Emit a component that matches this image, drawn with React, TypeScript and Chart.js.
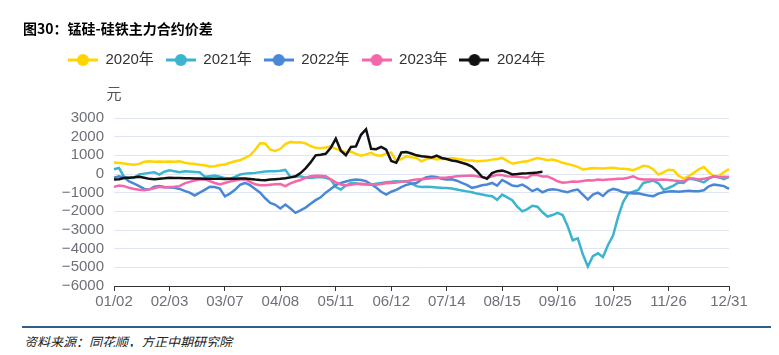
import React, { useEffect, useRef } from 'react';
import { Chart, registerables } from 'chart.js';

Chart.register(...registerables);

const FONT = '"Liberation Sans", "Noto Sans CJK SC", sans-serif';
const CJK_FONT = '"Noto Sans CJK SC", "Liberation Sans", sans-serif';

const TITLE = '图30：锰硅-硅铁主力合约价差';
const SOURCE = '资料来源：同花顺，方正中期研究院';
const Y_UNIT = '元';

const SERIES_NAMES = ['2020年', '2021年', '2022年', '2023年', '2024年'];
const SERIES_COLORS = ['#ffd400', '#3cb4cf', '#4a88d6', '#f467a9', '#111111'];

const TICK_LABELS = ['01/02', '02/03', '03/07', '04/08', '05/11', '06/12', '07/14', '08/15', '09/16', '10/25', '11/26', '12/31'];
const TICK_INDEX = [0, 11, 22, 33, 44, 55, 66, 77, 88, 99, 110, 122];
const POINT_COUNT = 123;

const Y_MIN = -6000;
const Y_MAX = 3000;
const Y_STEP = 1000;

const s2020 = [
  620, 590, 560, 520, 500, 540, 660, 680, 660, 670,
  650, 670, 660, 680, 600, 560, 540, 500, 470, 400,
  420, 480, 510, 600, 680, 740, 860, 1000, 1300, 1650,
  1640, 1300, 1230, 1350, 1600, 1720, 1690, 1700, 1640, 1500,
  1400, 1380, 1420, 1480, 1350, 1250, 1170, 1200, 1080, 980,
  1050, 1130, 1000, 980, 1100, 1150, 700, 800, 950, 900,
  860, 680, 800, 860, 780, 820, 800, 860, 820, 780,
  740, 720, 680, 700, 720, 770, 800, 860, 700, 560,
  600, 660, 680, 780, 860, 800, 740, 770, 700, 600,
  540, 460, 380, 240, 280, 320, 310, 300, 320, 330,
  300, 280, 250, 200, 320, 440, 400, 240, -30, 90,
  230, 200, -100, -250, -120, 60, 250, 380, 100, -120,
  -100, 90, 270,
];

const s2021 = [
  250, 320, -150, -210, -200, -30, 20, 60, 90, -30,
  120, 200, 150, 90, 145, 130, 110, 90, -150, -120,
  -85, -150, -220, -260, -150, -30, 20, 40, 60, 100,
  130, 145, 150, 180, 220, -160, -150, -120, -200, -210,
  -180, -160, -200, -300, -700, -830, -620, -480, -500, -550,
  -560, -570, -520, -480, -440, -420, -390, -400, -390, -500,
  -650, -690, -680, -700, -720, -740, -750, -780, -830, -880,
  -930, -980, -1050, -1100, -1150, -1190, -1380, -1100, -1250, -1400,
  -1750, -2000, -1880, -1700, -1750, -2050, -2280, -2200, -2080, -2200,
  -2800, -3550, -3450, -4300, -4950, -4400, -4250, -4450, -3800, -3300,
  -2300, -1500, -1050, -950, -850, -480, -420, -350, -500, -850,
  -750, -620, -450, -480, -250, -280, -350, -450, -250, -120,
  -180, -280, -150,
];

const s2022 = [
  -200, -120, -180, -400, -520, -650, -800, -830, -680, -650,
  -700, -720, -740, -800, -900, -1000, -1150, -1000, -850, -680,
  -700, -780, -1200, -1050, -850, -580, -480, -600, -800, -1000,
  -1300, -1550, -1650, -1850, -1640, -1850, -2080, -1950, -1800, -1600,
  -1400, -1250, -1000, -800, -600, -480, -400, -330, -300, -320,
  -380, -550, -720, -950, -1100, -950, -850, -700, -580, -520,
  -480, -300, -170, -130, -160, -250, -300, -280, -360, -480,
  -580, -740, -680, -600, -560, -480, -620, -320, -460, -620,
  -650, -570, -720, -920, -800, -980, -860, -820, -850, -920,
  -980, -880, -830, -1100, -1370, -1100, -1000, -1180, -920, -800,
  -860, -980, -1000, -1050, -1030, -1100, -1150, -1190, -1050, -980,
  -940, -920, -950, -920, -900, -930, -920, -870, -660, -570,
  -600, -650, -800,
];

const s2023 = [
  -690, -620, -650, -740, -800, -840, -870, -820, -760, -690,
  -720, -700, -680, -650, -500, -420, -350, -300, -280, -380,
  -480, -560, -480, -400, -350, -300, -280, -420, -550, -600,
  -600, -570, -550, -540, -650, -500, -400, -320, -200, -120,
  -100, -90, -120, -280, -450, -560, -620, -580, -540, -520,
  -530, -560, -570, -540, -500, -480, -450, -420, -400, -340,
  -300, -280, -260, -230, -210, -200, -190, -160, -120, -110,
  -100, -85, -120, -180, -210, -120, -40, -60, -120, -130,
  -150, -180, -200, -40, -60, -130, -140, -250, -390, -470,
  -440, -400, -420, -380, -340, -350, -300, -320, -300, -280,
  -260, -250, -200, -120, -260, -300, -300, -290, -310, -300,
  -320, -350, -370, -390, -260, -240, -290, -260, -200, -140,
  -170, -150, -160,
];

const s2024 = [
  -300, -280, -220, -200, -180, -150, -200, -260, -280, -250,
  -230, -200, -210, -220, -230, -230, -240, -240, -250, -250,
  -250, -260, -270, -260, -250, -240, -240, -270, -300, -320,
  -330, -300, -280, -260, -230, -180, -120, 50, 300, 620,
  1000, 1030, 1080, 1400, 1900, 1250, 1000, 1450, 1480, 2100,
  2400, 1350, 1330, 1450, 1300, 700, 600, 1150, 1180, 1100,
  1000, 950, 920, 880, 980, 860, 800, 720, 680, 600,
  520, 400, 150, -150, -250, 50, 150, 180, 100, -20,
  0, 30, 40, 60, 80, 120,
];

const SERIES = [s2020, s2021, s2022, s2023, s2024];

function makeIcon(color: string): HTMLCanvasElement {
  const c = document.createElement('canvas');
  c.width = 30;
  c.height = 14;
  const g = c.getContext('2d') as CanvasRenderingContext2D;
  g.strokeStyle = color;
  g.lineWidth = 3;
  g.beginPath();
  g.moveTo(0, 7);
  g.lineTo(30, 7);
  g.stroke();
  g.fillStyle = color;
  g.beginPath();
  g.arc(15, 7, 6, 0, Math.PI * 2);
  g.fill();
  return c;
}

const legendSpacing = {
  id: 'legendSpacing',
  beforeInit(chart: any) {
    const legend = chart.legend;
    if (!legend) return;
    const fit = legend.fit;
    legend.fit = function () {
      fit.call(this);
      this.height = 77.5;
    };
  },
};

const axisName = {
  id: 'axisName',
  afterDraw(chart: any) {
    const { ctx, chartArea } = chart;
    ctx.save();
    ctx.font = '15px ' + CJK_FONT;
    ctx.fillStyle = '#555';
    ctx.textAlign = 'center';
    ctx.textBaseline = 'middle';
    ctx.fillText(Y_UNIT, chartArea.left, chartArea.top - 25);
    ctx.restore();
  },
};

export default function App() {
  const ref = useRef<HTMLCanvasElement | null>(null);

  useEffect(() => {
    if (!ref.current) return;
    const categories = Array.from({ length: POINT_COUNT }, (_, i) => {
      const k = TICK_INDEX.indexOf(i);
      return k >= 0 ? TICK_LABELS[k] : '';
    });
    const datasets = SERIES.map((data, i) => ({
      label: SERIES_NAMES[i],
      data,
      borderColor: SERIES_COLORS[i],
      backgroundColor: SERIES_COLORS[i],
      pointStyle: makeIcon(SERIES_COLORS[i]),
      pointRadius: 0,
      pointHoverRadius: 0,
      borderWidth: 2.5,
      tension: 0,
      fill: false,
      order: SERIES.length - i,
    }));
    const chart = new Chart(ref.current, {
      type: 'line',
      data: { labels: categories, datasets: datasets as any },
      options: {
        responsive: true,
        maintainAspectRatio: false,
        animation: false,
        layout: { padding: { top: 32.5, left: 48, right: 42, bottom: 4 } },
        plugins: {
          legend: {
            display: true,
            position: 'top',
            align: 'start',
            labels: {
              usePointStyle: true,
              pointStyleWidth: 30,
              padding: 12,
              color: '#333',
              font: { size: 15, family: FONT },
              sort: (a: any, b: any) => a.datasetIndex - b.datasetIndex,
            },
          },
          tooltip: { enabled: false },
          title: { display: false },
        },
        scales: {
          x: {
            type: 'category',
            offset: false,
            grid: {
              display: true,
              drawOnChartArea: false,
              drawTicks: true,
              tickLength: 5,
              color: (ctx: any) => (ctx.tick && ctx.tick.label ? '#333' : 'rgba(0,0,0,0)'),
            },
            border: { display: true, color: '#333', width: 1 },
            ticks: {
              autoSkip: false,
              maxRotation: 0,
              minRotation: 0,
              padding: 2,
              color: '#6e7079',
              font: { size: 15, family: FONT },
            },
            afterFit: (s: any) => {
              s.height = 30;
            },
          },
          y: {
            min: Y_MIN,
            max: Y_MAX,
            grid: { color: '#e0e6f1', drawTicks: false, lineWidth: 1 },
            border: { display: false },
            ticks: {
              stepSize: Y_STEP,
              autoSkip: false,
              padding: 10,
              color: '#6e7079',
              font: { size: 15, family: FONT, lineHeight: 1 },
              callback: (v: any) => (Number(v) < 0 ? '\u2212' + Math.abs(Number(v)) : String(v)),
            },
            afterFit: (s: any) => {
              s.width = 58;
            },
          },
        },
      } as any,
      plugins: [legendSpacing, axisName],
    });
    return () => chart.destroy();
  }, []);

  return (
    <div style={{ position: 'relative', width: 763, height: 339 }}>
      <div style={{ position: 'absolute', left: 0, top: 0, width: 763, height: 312 }}>
        <canvas ref={ref} />
      </div>
      <div
        style={{
          position: 'absolute',
          left: 15,
          top: 12,
          font: 'bold 14px ' + CJK_FONT,
          lineHeight: '16px',
          color: '#000',
          whiteSpace: 'nowrap',
        }}
      >
        {TITLE}
      </div>
      <div style={{ position: 'absolute', left: 14, right: -8, top: 318, height: 0, borderTop: '2px solid #2f5e8c' }} />
      <div
        style={{
          position: 'absolute',
          left: 16,
          top: 326,
          font: 'italic 13px ' + CJK_FONT,
          lineHeight: '16px',
          color: '#222',
          whiteSpace: 'nowrap',
        }}
      >
        {SOURCE}
      </div>
    </div>
  );
}
